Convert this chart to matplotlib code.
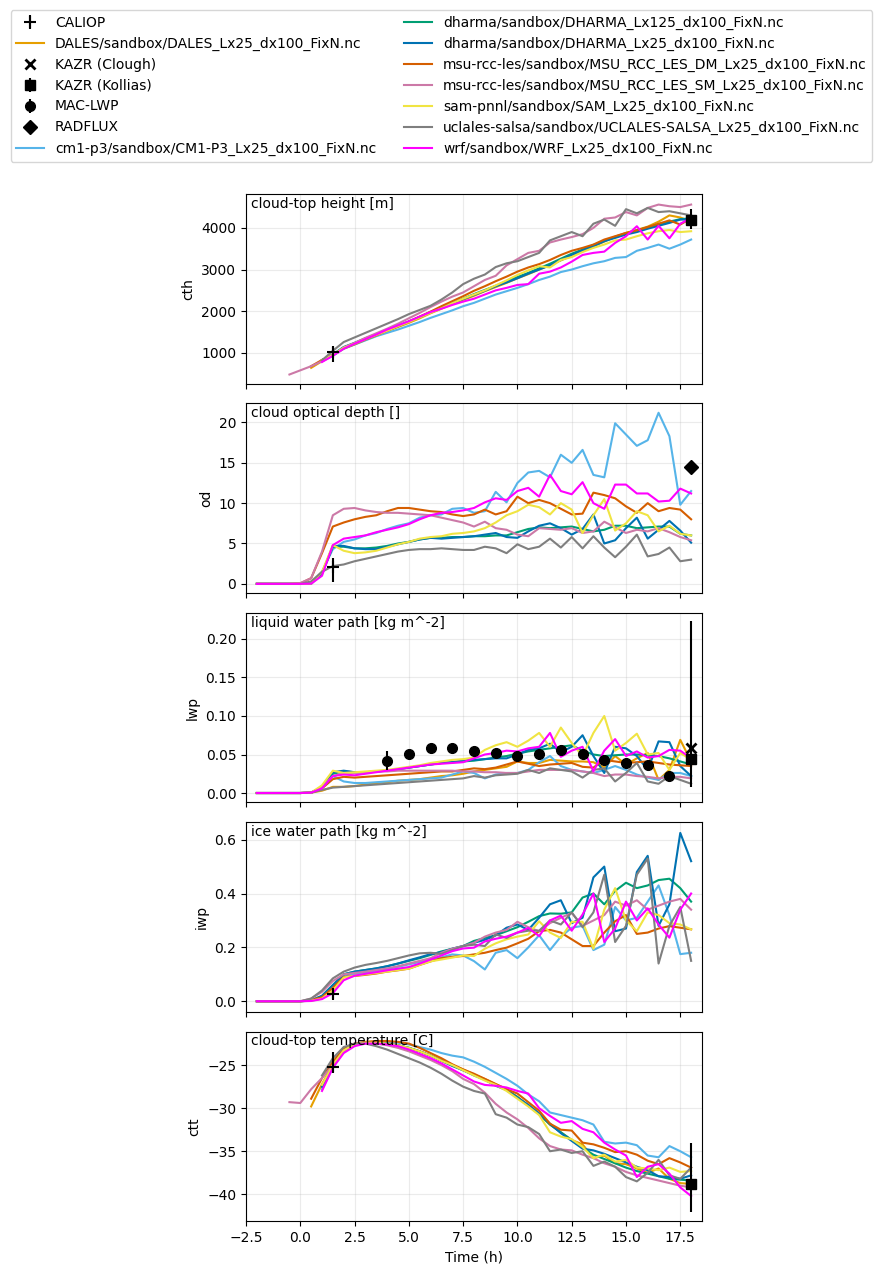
import numpy as np
import matplotlib
matplotlib.use("Agg")
import matplotlib.pyplot as plt

NA = np.nan
# model output every half hour, -2 h .. 18 h
hours = np.arange(-2.0, 18.01, 0.5)

# ---- cloud-top height [m]
cth_dales = [NA]*5 + [640, 800, 940, 1100, 1200, 1310, 1410, 1520, 1620, 1720, 1830, 1950, 2060, 2170, 2270, 2370, 2480, 2580, 2680, 2790, 2890, 3000, 3110, 3220, 3330, 3450, 3560, 3670, 3790, 3880, 3950, 4030, 4150, 4300, 4250, 4150]
cth_cm1 = [NA]*6 + [800, 930, 1100, 1200, 1300, 1400, 1480, 1560, 1650, 1740, 1840, 1930, 2020, 2120, 2200, 2300, 2400, 2480, 2560, 2650, 2750, 2830, 2940, 3000, 3080, 3150, 3200, 3280, 3300, 3450, 3520, 3600, 3500, 3600, 3720]
cth_dharma125 = [NA]*6 + [820, 960, 1130, 1230, 1340, 1440, 1540, 1640, 1750, 1860, 1980, 2090, 2200, 2300, 2410, 2510, 2610, 2720, 2820, 2920, 3030, 3140, 3260, 3380, 3480, 3590, 3690, 3780, 3860, 3940, 4010, 4080, 4150, 4210, 4230]
cth_dharma25 = [NA]*6 + [830, 960, 1140, 1240, 1350, 1450, 1550, 1650, 1750, 1860, 1970, 2080, 2190, 2290, 2390, 2490, 2600, 2690, 2790, 2900, 3000, 3100, 3230, 3350, 3460, 3560, 3680, 3760, 3840, 3900, 3980, 4050, 4120, 4200, 4200]
cth_msudm = [NA]*5 + [680, 830, 950, 1110, 1210, 1320, 1420, 1530, 1640, 1750, 1870, 1990, 2120, 2240, 2360, 2490, 2600, 2720, 2830, 2950, 3050, 3130, 3230, 3350, 3450, 3520, 3600, 3720, 3800, 3880, 3940, 4020, 4100, 4180, 4080, 4230]
cth_msusm = [NA, NA, NA, 480, 580, 680, 800, 940, 1130, 1240, 1360, 1470, 1580, 1700, 1830, 1960, 2100, 2230, 2350, 2450, 2600, 2750, 2850, 3100, 3250, 3400, 3450, 3650, 3720, 3780, 3850, 4000, 4220, 4250, 4380, 4300, 4480, 4560, 4520, 4500, 4560]
cth_sam = [NA]*6 + [820, 950, 1120, 1220, 1330, 1430, 1530, 1640, 1740, 1850, 1960, 2070, 2190, 2300, 2400, 2500, 2620, 2740, 2870, 2980, 3080, 3050, 3230, 3300, 3420, 3520, 3600, 3700, 3720, 3800, 3870, 3920, 3950, 3900, 3920]
cth_uclales = [NA]*6 + [820, 1050, 1260, 1370, 1480, 1590, 1700, 1810, 1930, 2030, 2130, 2280, 2450, 2650, 2780, 2880, 3060, 3150, 3200, 3300, 3400, 3700, 3800, 3900, 3800, 4100, 4200, 4050, 4450, 4350, 4480, 4380, 4400, 4350, 4300]
cth_wrf = [NA]*6 + [780, 930, 1100, 1220, 1330, 1440, 1560, 1660, 1760, 1870, 1980, 2060, 2150, 2230, 2300, 2400, 2500, 2560, 2630, 2650, 2900, 2950, 3050, 3190, 3350, 3400, 3430, 3640, 3800, 4040, 3720, 4050, 3750, 4100, 4240]

# ---- cloud optical depth
od_cm1 = [0, 0, 0, 0, 0, 0.05, 1.5, 4.3, 5.2, 5.5, 6.0, 6.3, 6.8, 7.2, 7.5, 8.2, 8.5, 8.6, 9.3, 9.4, 8.8, 9.0, 11.4, 10.1, 12.5, 13.8, 14.0, 13.2, 16.0, 15.0, 16.6, 13.5, 13.2, 19.9, 18.5, 17.1, 17.8, 21.2, 18.3, 9.8, 11.5]
od_dharma125 = [0]*5 + [0.02, 1.3, 4.6, 4.6, 4.4, 4.4, 4.5, 4.7, 5.0, 5.2, 5.5, 5.7, 5.7, 5.8, 5.8, 5.9, 5.9, 6.0, 6.0, 6.4, 6.8, 7.0, 6.9, 7.0, 7.1, 6.8, 6.5, 6.7, 7.2, 7.2, 6.9, 7.0, 7.1, 7.1, 6.2, 6.0]
od_dharma25 = [0]*5 + [0.02, 1.3, 4.7, 4.7, 4.4, 4.3, 4.3, 4.6, 4.9, 5.2, 5.5, 5.7, 5.6, 5.7, 5.8, 5.9, 6.1, 6.3, 5.8, 5.7, 6.5, 7.2, 7.5, 6.9, 6.1, 6.8, 8.6, 5.0, 5.4, 6.9, 8.2, 5.6, 6.7, 7.8, 6.6, 5.1]
od_msudm = [0, 0, 0, 0, 0.05, 0.7, 3.8, 7.1, 7.6, 8.0, 8.3, 8.5, 9.0, 9.4, 9.4, 9.2, 9.0, 8.9, 8.6, 8.4, 8.6, 9.2, 8.6, 9.0, 10.8, 10.0, 10.4, 10.0, 9.3, 8.6, 8.7, 11.3, 11.0, 10.6, 9.6, 8.8, 10.0, 9.0, 9.4, 9.2, 8.0]
od_msusm = [0, 0, 0, 0, 0.1, 0.7, 4.0, 8.5, 9.3, 9.4, 9.1, 8.9, 8.8, 8.8, 8.7, 8.6, 8.5, 8.2, 7.9, 7.6, 7.1, 7.7, 6.9, 6.7, 6.1, 5.9, 6.9, 6.8, 6.7, 6.9, 6.3, 6.5, 7.7, 7.0, 6.3, 6.7, 6.5, 6.9, 6.4, 5.8, 5.4]
od_sam = [0]*5 + [0.02, 1.5, 4.8, 4.1, 3.8, 3.9, 4.1, 4.5, 4.9, 5.2, 5.6, 5.8, 5.9, 6.2, 6.3, 6.5, 6.9, 7.6, 8.5, 9.0, 9.8, 9.5, 8.6, 10.0, 9.2, 6.3, 8.5, 10.5, 6.6, 7.5, 9.0, 8.5, 6.5, 7.2, 6.2, 6.0]
od_uclales = [0, 0, 0, 0, 0, 0.3, 1.5, 2.2, 2.4, 2.8, 3.1, 3.4, 3.7, 4.0, 4.2, 4.3, 4.3, 4.4, 4.3, 4.2, 4.2, 4.6, 4.4, 3.8, 4.9, 4.3, 4.6, 5.6, 4.5, 5.8, 4.4, 5.9, 4.5, 3.3, 4.6, 6.1, 3.4, 3.7, 4.5, 2.8, 3.0]
od_wrf = [0]*5 + [0.02, 1.0, 4.8, 5.6, 5.8, 6.0, 6.4, 6.7, 7.0, 7.4, 8.0, 8.5, 8.8, 8.9, 9.1, 9.4, 10.1, 10.6, 10.4, 11.5, 11.9, 10.8, 13.5, 11.5, 11.1, 12.6, 10.0, 9.3, 12.3, 12.3, 11.2, 11.2, 10.2, 10.3, 11.8, 11.2]

# ---- liquid water path [kg m-2]
lwp_dales = [0]*5 + [0.0005, 0.003, 0.008, 0.008, 0.009, 0.011, 0.013, 0.014, 0.016, 0.017, 0.018, 0.020, 0.022, 0.023, 0.025, 0.028, 0.030, 0.032, 0.034, 0.041, 0.039, 0.039, 0.043, 0.042, 0.041, 0.041, 0.040, 0.033, 0.048, 0.037, 0.045, 0.052, 0.017, 0.030, 0.069, 0.041]
lwp_cm1 = [0]*5 + [0.0005, 0.007, 0.022, 0.015, 0.013, 0.013, 0.014, 0.015, 0.016, 0.017, 0.018, 0.019, 0.020, 0.024, 0.028, 0.026, 0.019, 0.024, 0.026, 0.026, 0.030, 0.040, 0.048, 0.035, 0.030, 0.028, 0.026, 0.030, 0.035, 0.030, 0.024, 0.020, 0.017, 0.026, 0.026, 0.022]
lwp_dharma125 = [0]*5 + [0.0005, 0.008, 0.025, 0.028, 0.027, 0.027, 0.028, 0.029, 0.031, 0.033, 0.035, 0.037, 0.039, 0.040, 0.041, 0.042, 0.044, 0.046, 0.048, 0.051, 0.054, 0.056, 0.058, 0.060, 0.062, 0.055, 0.050, 0.048, 0.049, 0.050, 0.050, 0.049, 0.048, 0.045, 0.041, 0.037]
lwp_dharma25 = [0]*5 + [0.0005, 0.008, 0.027, 0.029, 0.027, 0.027, 0.028, 0.029, 0.031, 0.033, 0.035, 0.037, 0.039, 0.040, 0.042, 0.043, 0.044, 0.045, 0.045, 0.050, 0.056, 0.058, 0.064, 0.053, 0.060, 0.075, 0.048, 0.026, 0.060, 0.058, 0.048, 0.030, 0.067, 0.066, 0.035, 0.022]
lwp_msudm = [0]*5 + [0.0005, 0.006, 0.018, 0.021, 0.020, 0.021, 0.022, 0.023, 0.024, 0.025, 0.026, 0.027, 0.028, 0.028, 0.030, 0.032, 0.031, 0.033, 0.037, 0.041, 0.038, 0.035, 0.037, 0.038, 0.039, 0.034, 0.033, 0.043, 0.041, 0.039, 0.040, 0.041, 0.039, 0.037, 0.036, 0.035]
lwp_msusm = [0]*5 + [0.0005, 0.008, 0.022, 0.026, 0.026, 0.027, 0.028, 0.028, 0.029, 0.029, 0.029, 0.029, 0.029, 0.029, 0.028, 0.028, 0.027, 0.027, 0.026, 0.026, 0.028, 0.030, 0.030, 0.030, 0.030, 0.028, 0.026, 0.022, 0.024, 0.024, 0.022, 0.021, 0.019, 0.021, 0.021, 0.019]
lwp_sam = [0]*5 + [0.0005, 0.010, 0.029, 0.026, 0.027, 0.028, 0.029, 0.030, 0.032, 0.034, 0.036, 0.039, 0.041, 0.043, 0.044, 0.046, 0.056, 0.062, 0.066, 0.060, 0.068, 0.078, 0.060, 0.085, 0.065, 0.048, 0.078, 0.100, 0.055, 0.065, 0.077, 0.050, 0.052, 0.030, 0.052, 0.043]
lwp_uclales = [0]*5 + [0.0005, 0.004, 0.007, 0.008, 0.009, 0.010, 0.011, 0.012, 0.013, 0.014, 0.015, 0.016, 0.017, 0.018, 0.019, 0.022, 0.020, 0.023, 0.024, 0.025, 0.030, 0.026, 0.032, 0.030, 0.028, 0.020, 0.030, 0.032, 0.015, 0.026, 0.039, 0.015, 0.012, 0.022, 0.017, 0.012]
lwp_wrf = [0]*5 + [0.0005, 0.006, 0.022, 0.024, 0.023, 0.025, 0.027, 0.029, 0.031, 0.033, 0.035, 0.037, 0.038, 0.039, 0.040, 0.045, 0.050, 0.052, 0.055, 0.054, 0.058, 0.060, 0.078, 0.047, 0.055, 0.060, 0.028, 0.055, 0.070, 0.048, 0.054, 0.046, 0.048, 0.056, 0.055, 0.045]

# ---- ice water path [kg m-2]
iwp_cm1 = [0]*5 + [0.002, 0.010, 0.045, 0.095, 0.100, 0.106, 0.112, 0.120, 0.128, 0.137, 0.146, 0.155, 0.163, 0.174, 0.170, 0.149, 0.118, 0.180, 0.190, 0.160, 0.200, 0.245, 0.190, 0.240, 0.273, 0.280, 0.190, 0.210, 0.350, 0.300, 0.310, 0.370, 0.430, 0.320, 0.175, 0.180]
iwp_dharma125 = [0]*5 + [0.003, 0.020, 0.060, 0.100, 0.110, 0.116, 0.122, 0.130, 0.140, 0.150, 0.160, 0.172, 0.185, 0.195, 0.205, 0.224, 0.235, 0.245, 0.260, 0.275, 0.295, 0.316, 0.326, 0.325, 0.330, 0.385, 0.400, 0.360, 0.410, 0.440, 0.420, 0.430, 0.450, 0.455, 0.420, 0.370]
iwp_dharma25 = [0]*5 + [0.003, 0.020, 0.060, 0.100, 0.110, 0.116, 0.122, 0.130, 0.140, 0.152, 0.163, 0.175, 0.182, 0.195, 0.205, 0.217, 0.228, 0.245, 0.273, 0.285, 0.265, 0.310, 0.360, 0.375, 0.290, 0.310, 0.460, 0.500, 0.260, 0.270, 0.480, 0.540, 0.280, 0.360, 0.625, 0.520]
iwp_msudm = [0]*5 + [0.004, 0.015, 0.050, 0.090, 0.094, 0.098, 0.103, 0.110, 0.115, 0.121, 0.135, 0.148, 0.160, 0.165, 0.168, 0.174, 0.180, 0.190, 0.199, 0.215, 0.232, 0.260, 0.265, 0.255, 0.230, 0.205, 0.205, 0.255, 0.297, 0.320, 0.250, 0.255, 0.270, 0.279, 0.273, 0.267]
iwp_msusm = [0]*5 + [0.010, 0.035, 0.075, 0.100, 0.105, 0.110, 0.116, 0.122, 0.130, 0.140, 0.150, 0.160, 0.180, 0.195, 0.205, 0.217, 0.240, 0.255, 0.265, 0.295, 0.275, 0.260, 0.290, 0.310, 0.328, 0.280, 0.300, 0.320, 0.370, 0.355, 0.375, 0.340, 0.355, 0.370, 0.380, 0.340]
iwp_sam = [0]*5 + [0.002, 0.010, 0.040, 0.088, 0.095, 0.100, 0.105, 0.110, 0.116, 0.121, 0.135, 0.148, 0.155, 0.162, 0.170, 0.168, 0.195, 0.215, 0.230, 0.240, 0.248, 0.297, 0.255, 0.235, 0.295, 0.295, 0.195, 0.340, 0.420, 0.300, 0.260, 0.330, 0.320, 0.290, 0.285, 0.267]
iwp_uclales = [0]*5 + [0.010, 0.040, 0.085, 0.110, 0.125, 0.135, 0.142, 0.150, 0.160, 0.170, 0.178, 0.180, 0.176, 0.190, 0.205, 0.210, 0.205, 0.248, 0.235, 0.255, 0.262, 0.262, 0.300, 0.285, 0.330, 0.275, 0.330, 0.470, 0.220, 0.280, 0.470, 0.530, 0.140, 0.280, 0.350, 0.150]
iwp_wrf = [0]*5 + [0.001, 0.008, 0.030, 0.078, 0.095, 0.102, 0.108, 0.115, 0.121, 0.127, 0.140, 0.155, 0.170, 0.186, 0.196, 0.199, 0.222, 0.232, 0.240, 0.255, 0.272, 0.242, 0.300, 0.318, 0.262, 0.322, 0.400, 0.220, 0.270, 0.370, 0.300, 0.345, 0.285, 0.236, 0.340, 0.400]

# ---- cloud-top temperature [C]
ctt_dales = [NA]*5 + [-29.8, -27.2, -24.9, -23.3, -22.6, -22.4, -22.4, -22.5, -22.7, -23.0, -23.4, -23.9, -24.4, -25.0, -25.5, -26.1, -26.6, -27.2, -27.8, -28.7, -29.7, -30.7, -31.9, -32.8, -33.7, -34.2, -35.8, -35.5, -36.4, -36.5, -37.0, -37.5, -37.0, -38.2, -38.7, -38.8]
ctt_cm1 = [NA]*6 + [-27.8, -25.3, -23.4, -22.7, -22.4, -22.3, -22.3, -22.4, -22.6, -22.9, -23.2, -23.6, -23.9, -24.1, -24.6, -25.2, -25.9, -26.6, -27.4, -28.4, -29.2, -30.5, -30.8, -31.1, -31.4, -31.9, -33.9, -34.1, -34.0, -34.3, -35.5, -35.7, -34.4, -35.0, -35.7]
ctt_dharma125 = [NA]*6 + [-27.5, -25.1, -23.3, -22.6, -22.4, -22.4, -22.5, -22.7, -23.0, -23.4, -23.9, -24.5, -25.0, -25.6, -26.1, -26.7, -27.3, -27.9, -28.7, -29.7, -30.7, -31.9, -32.8, -33.7, -34.6, -35.4, -35.9, -36.4, -36.9, -37.3, -37.6, -37.9, -38.2, -38.3, -38.4]
ctt_dharma25 = [NA]*6 + [-27.5, -25.0, -23.2, -22.6, -22.4, -22.4, -22.5, -22.7, -23.0, -23.4, -23.9, -24.5, -25.1, -25.6, -26.2, -26.7, -27.4, -27.9, -28.8, -29.6, -30.6, -31.8, -32.9, -33.8, -34.7, -34.9, -35.3, -35.8, -36.3, -36.8, -37.2, -37.9, -38.0, -38.2, -37.8]
ctt_msudm = [NA]*5 + [-28.9, -26.5, -24.6, -23.1, -22.5, -22.3, -22.2, -22.2, -22.3, -22.5, -23.0, -23.6, -24.2, -24.9, -25.5, -26.0, -26.6, -27.2, -27.8, -28.3, -29.3, -30.3, -31.8, -32.5, -32.6, -34.0, -34.2, -34.6, -35.1, -35.0, -35.4, -36.1, -36.5, -35.8, -36.3, -36.9]
ctt_msusm = [NA, NA, NA, -29.3, -29.4, -27.8, -26.5, -25.0, -23.3, -22.6, -22.4, -22.5, -22.7, -23.0, -23.4, -23.9, -24.4, -25.0, -25.7, -26.6, -27.2, -28.2, -29.5, -30.5, -31.3, -32.3, -33.5, -34.4, -34.8, -34.9, -35.4, -35.8, -36.4, -36.8, -37.4, -37.8, -38.1, -38.4, -38.7, -39.0, -39.2]
ctt_sam = [NA]*6 + [-27.3, -25.0, -23.3, -22.6, -22.4, -22.4, -22.5, -22.7, -23.0, -23.4, -23.9, -24.5, -25.0, -25.6, -26.2, -26.8, -27.3, -28.0, -28.9, -29.8, -30.8, -32.8, -33.3, -33.6, -34.5, -35.8, -35.4, -36.2, -36.0, -36.9, -37.0, -37.2, -36.9, -37.4, -37.3]
ctt_uclales = [NA]*6 + [-26.2, -24.2, -22.9, -22.5, -22.5, -22.8, -23.2, -23.7, -24.2, -24.7, -25.3, -26.0, -26.8, -27.5, -28.0, -28.3, -30.7, -31.1, -31.9, -32.2, -33.0, -35.0, -34.8, -35.2, -35.0, -36.7, -36.2, -36.8, -38.0, -38.5, -37.5, -36.0, -37.8, -38.2, -36.9]
ctt_wrf = [NA]*6 + [-28.0, -25.3, -23.6, -22.8, -22.5, -22.5, -22.6, -22.8, -23.2, -23.7, -24.2, -24.8, -25.5, -26.2, -26.9, -27.3, -27.4, -27.6, -28.0, -28.3, -30.0, -30.9, -31.7, -31.5, -32.4, -32.8, -34.0, -34.8, -35.5, -38.0, -36.8, -36.5, -37.6, -39.2, -40.2]

# ---- observations
caliop_time = [1.5]
caliop = {"cth": (1020, [[250], [115]]), "od": (2.1, [[1.85], [1.05]]),
          "iwp": (0.028, [[0.018], [0.019]]), "ctt": (-25.2, [[0.6], [1.7]])}
kollias_time = [18.0]
kollias = {"cth": (4200, [[226], [258]]), "lwp": (0.044, [[0.036], [0.179]]),
           "ctt": (-38.8, [[3.2], [4.75]])}
clough_time = [18.0]
clough_lwp = [0.058]
radflux_time = [18.0]
radflux_od = [14.5]
mac_time = [4, 5, 6, 7, 8, 9, 10, 11, 12, 13, 14, 15, 16, 17]
mac_lwp = [0.042, 0.051, 0.058, 0.058, 0.055, 0.052, 0.048, 0.051, 0.056, 0.051, 0.043, 0.039, 0.036, 0.022]
mac_err = [0.012, 0.004, 0.006, 0.004, 0.003, 0.003, 0.003, 0.005, 0.006, 0.003, 0.003, 0.003, 0.004, 0.003]

models = [
    ("DALES/sandbox/DALES_Lx25_dx100_FixN.nc", "#E69F00",
     dict(cth=cth_dales, lwp=lwp_dales, ctt=ctt_dales)),
    ("cm1-p3/sandbox/CM1-P3_Lx25_dx100_FixN.nc", "#56B4E9",
     dict(cth=cth_cm1, od=od_cm1, lwp=lwp_cm1, iwp=iwp_cm1, ctt=ctt_cm1)),
    ("dharma/sandbox/DHARMA_Lx125_dx100_FixN.nc", "#009E73",
     dict(cth=cth_dharma125, od=od_dharma125, lwp=lwp_dharma125, iwp=iwp_dharma125, ctt=ctt_dharma125)),
    ("dharma/sandbox/DHARMA_Lx25_dx100_FixN.nc", "#0072B2",
     dict(cth=cth_dharma25, od=od_dharma25, lwp=lwp_dharma25, iwp=iwp_dharma25, ctt=ctt_dharma25)),
    ("msu-rcc-les/sandbox/MSU_RCC_LES_DM_Lx25_dx100_FixN.nc", "#D55E00",
     dict(cth=cth_msudm, od=od_msudm, lwp=lwp_msudm, iwp=iwp_msudm, ctt=ctt_msudm)),
    ("msu-rcc-les/sandbox/MSU_RCC_LES_SM_Lx25_dx100_FixN.nc", "#CC79A7",
     dict(cth=cth_msusm, od=od_msusm, lwp=lwp_msusm, iwp=iwp_msusm, ctt=ctt_msusm)),
    ("sam-pnnl/sandbox/SAM_Lx25_dx100_FixN.nc", "#F0E442",
     dict(cth=cth_sam, od=od_sam, lwp=lwp_sam, iwp=iwp_sam, ctt=ctt_sam)),
    ("uclales-salsa/sandbox/UCLALES-SALSA_Lx25_dx100_FixN.nc", "#7F7F7F",
     dict(cth=cth_uclales, od=od_uclales, lwp=lwp_uclales, iwp=iwp_uclales, ctt=ctt_uclales)),
    ("wrf/sandbox/WRF_Lx25_dx100_FixN.nc", "#FF00FF",
     dict(cth=cth_wrf, od=od_wrf, lwp=lwp_wrf, iwp=iwp_wrf, ctt=ctt_wrf)),
]

panels = [("cth", "cloud-top height [m]", (264, 4813)),
          ("od", "cloud optical depth []", (-1.12, 22.36)),
          ("lwp", "liquid water path [kg m^-2]", (-0.012, 0.234)),
          ("iwp", "ice water path [kg m^-2]", (-0.0385, 0.665)),
          ("ctt", "cloud-top temperature [C]", (-43.1, -21.1))]

fig, axes = plt.subplots(5, 1, figsize=(8.83, 12.74), dpi=100, sharex=True)
fig.subplots_adjust(left=0.2786, right=0.795, top=0.8477, bottom=0.0416, hspace=0.105)

handles = {}
for ax, (var, title, ylim) in zip(axes, panels):
    for label, color, data in models:
        if var in data:
            ln, = ax.plot(hours, data[var], color=color, lw=1.5, label=label)
            handles.setdefault(label, ln)
    if var in caliop:
        v, e = caliop[var]
        h = ax.errorbar(caliop_time, [v], yerr=e, fmt="+", color="k", ms=8, mew=1.5, zorder=5)
        handles.setdefault("CALIOP", h)
    if var in kollias:
        v, e = kollias[var]
        h = ax.errorbar(kollias_time, [v], yerr=e, fmt="s", color="k", ms=7, zorder=5)
        handles.setdefault("KAZR (Kollias)", h)
    if var == "lwp":
        h = ax.errorbar(mac_time, mac_lwp, yerr=mac_err, fmt="o", color="k", ms=7, zorder=5)
        handles.setdefault("MAC-LWP", h)
        h, = ax.plot(clough_time, clough_lwp, "x", color="k", ms=7, mew=2, zorder=6)
        handles.setdefault("KAZR (Clough)", h)
    if var == "od":
        h, = ax.plot(radflux_time, radflux_od, "D", color="k", ms=7, zorder=5)
        handles.setdefault("RADFLUX", h)
    ax.text(0.01, 0.985, title, transform=ax.transAxes, ha="left", va="top")
    ax.set_ylabel(var)
    ax.set_ylim(*ylim)
    ax.grid(True, alpha=0.25)

axes[-1].set_xlim(-2.5, 18.5)
axes[-1].set_xlabel("Time (h)")

labels = sorted(handles)
fig.legend([handles[k] for k in labels], labels, loc="upper center", ncol=2,
           bbox_to_anchor=(0.5, 0.9976))

fig.savefig("out.png", dpi=100)
